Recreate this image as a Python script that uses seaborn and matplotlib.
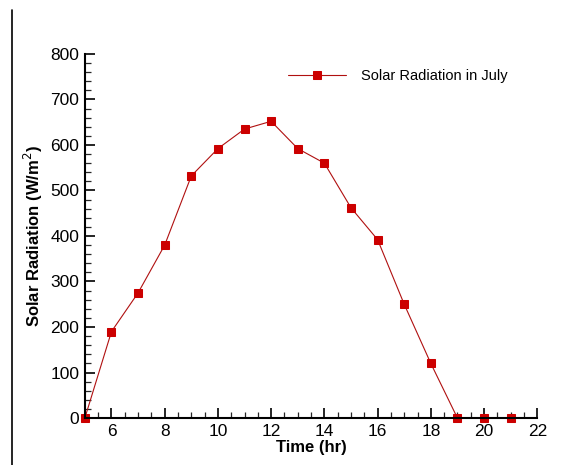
import matplotlib
matplotlib.use("Agg")
import matplotlib.pyplot as plt
import seaborn as sns
import pandas as pd
from matplotlib.ticker import MultipleLocator
from matplotlib.lines import Line2D

hours = [5, 6, 7, 8, 9, 10, 11, 12, 13, 14, 15, 16, 17, 18, 19, 20, 21]
radiation = [0, 190, 275, 380, 532, 592, 635, 652, 592, 560, 462, 392, 250, 120, 0, 0, 0]
series_name = "Solar Radiation in July"

df = pd.DataFrame({"Time": hours, "Radiation": radiation})

sns.set_theme(style="ticks")
plt.rcParams['font.family'] = ['Liberation Sans', 'DejaVu Sans']
plt.rcParams['axes.labelcolor'] = 'black'
plt.rcParams['text.color'] = 'black'

fig = plt.figure(figsize=(5.62, 4.65), dpi=100)
ax = fig.add_axes([0.151, 0.101, 0.805, 0.783])

sns.lineplot(data=df, x="Time", y="Radiation", ax=ax, color="#b01010",
             linewidth=0.8, marker="s", markersize=5.5,
             markerfacecolor="#cc0000", markeredgecolor="#cc0000",
             label=series_name, clip_on=False)

ax.set_xlim(5, 22)
ax.set_ylim(0, 800)
ax.xaxis.set_major_locator(MultipleLocator(2))
ax.xaxis.set_minor_locator(MultipleLocator(0.5))
ax.yaxis.set_major_locator(MultipleLocator(100))
ax.yaxis.set_minor_locator(MultipleLocator(20))
ax.tick_params(axis="both", which="major", direction="in", length=7, width=1.2,
               labelsize=12.5, colors="black", pad=4)
ax.tick_params(axis="both", which="minor", direction="in", length=4, width=0.9)

sns.despine(ax=ax)
for s in ["left", "bottom"]:
    ax.spines[s].set_linewidth(1.5)
    ax.spines[s].set_color("black")

ax.set_xlabel("Time (hr)", fontsize=12, fontweight="bold", labelpad=1)
ax.set_ylabel("Solar Radiation (W/m$^2$)", fontsize=12, fontweight="bold", labelpad=4)

leg = ax.legend(loc="upper left", bbox_to_anchor=(0.42, 0.995), frameon=False,
                fontsize=10.5, handlelength=4, handletextpad=1.0)

# thin border line at far left of the image
fig.add_artist(Line2D([12 / 562, 12 / 562], [0, 1 - 10 / 465], color="black", linewidth=1.2))

fig.savefig("out.png", dpi=100)
